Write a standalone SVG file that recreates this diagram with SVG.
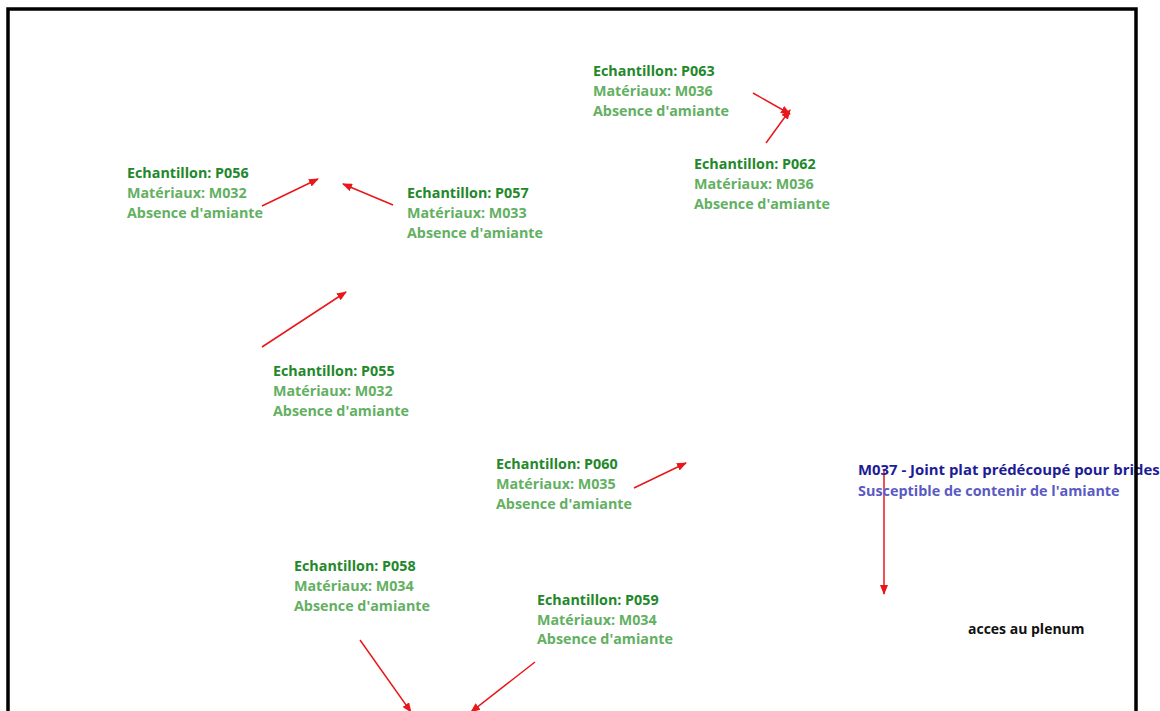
<svg xmlns="http://www.w3.org/2000/svg" width="1160" height="711" viewBox="0 0 1160 711">
<style>
text{font-family:"Open Sans","Noto Sans","Liberation Sans",sans-serif;font-size:14.3px;font-weight:bold}
.t{fill:#22882a}
.s{fill:#63b063}
.bt{fill:#1c1c96;font-size:14.9px}
.bs{fill:#5a5ac4;font-size:14.4px}
.k{fill:#111;font-size:14px}
.c{stroke:#e8171b;stroke-width:1.5;fill:none;marker-end:url(#ah)}
</style>
<defs>
<marker id="ah" markerUnits="userSpaceOnUse" markerWidth="10" markerHeight="8" refX="9" refY="4" orient="auto">
<path d="M0,0 L10,4 L0,8 z" fill="#e8171b"/>
</marker>
</defs>
<rect width="1160" height="711" fill="#fff"/>
<g id="connectors">
<line class="c" x1="262" y1="206" x2="318" y2="179"/>
<line class="c" x1="393" y1="205" x2="343" y2="184"/>
<line class="c" x1="262" y1="347" x2="346" y2="292"/>
<line class="c" x1="753" y1="93" x2="790" y2="114"/>
<line class="c" x1="766" y1="143" x2="790" y2="110"/>
<line class="c" x1="634" y1="488" x2="686" y2="463"/>
<line class="c" x1="884" y1="470" x2="884" y2="594"/>
<line class="c" x1="360" y1="640" x2="411" y2="712"/>
<line class="c" x1="535" y1="662" x2="471" y2="712"/>
</g>
<g id="P063"><text x="593" y="76" class="t">Echantillon: P063</text><text x="593" y="96" class="s">Matériaux: M036</text><text x="593" y="116" class="s">Absence d'amiante</text></g>
<g id="P056"><text x="127" y="178" class="t">Echantillon: P056</text><text x="127" y="198" class="s">Matériaux: M032</text><text x="127" y="218" class="s">Absence d'amiante</text></g>
<g id="P057"><text x="407" y="198" class="t">Echantillon: P057</text><text x="407" y="218" class="s">Matériaux: M033</text><text x="407" y="238" class="s">Absence d'amiante</text></g>
<g id="P062"><text x="694" y="169" class="t">Echantillon: P062</text><text x="694" y="189" class="s">Matériaux: M036</text><text x="694" y="209" class="s">Absence d'amiante</text></g>
<g id="P055"><text x="273" y="376" class="t">Echantillon: P055</text><text x="273" y="396" class="s">Matériaux: M032</text><text x="273" y="416" class="s">Absence d'amiante</text></g>
<g id="P060"><text x="496" y="469" class="t">Echantillon: P060</text><text x="496" y="489" class="s">Matériaux: M035</text><text x="496" y="509" class="s">Absence d'amiante</text></g>
<g id="M037"><text x="858" y="475" class="bt">M037 - Joint plat prédécoupé pour brides</text><text x="858" y="496" class="bs">Susceptible de contenir de l'amiante</text></g>
<g id="P058"><text x="294" y="571" class="t">Echantillon: P058</text><text x="294" y="591" class="s">Matériaux: M034</text><text x="294" y="611" class="s">Absence d'amiante</text></g>
<g id="P059"><text x="537" y="605" class="t">Echantillon: P059</text><text x="537" y="625" class="s">Matériaux: M034</text><text x="537" y="644" class="s">Absence d'amiante</text></g>
<g id="plenum"><text x="968" y="634" class="k">acces au plenum</text></g>
<g id="frame"><path d="M8,712 V9 H1136 V712" fill="none" stroke="#000" stroke-width="3.5"/></g>
</svg>
